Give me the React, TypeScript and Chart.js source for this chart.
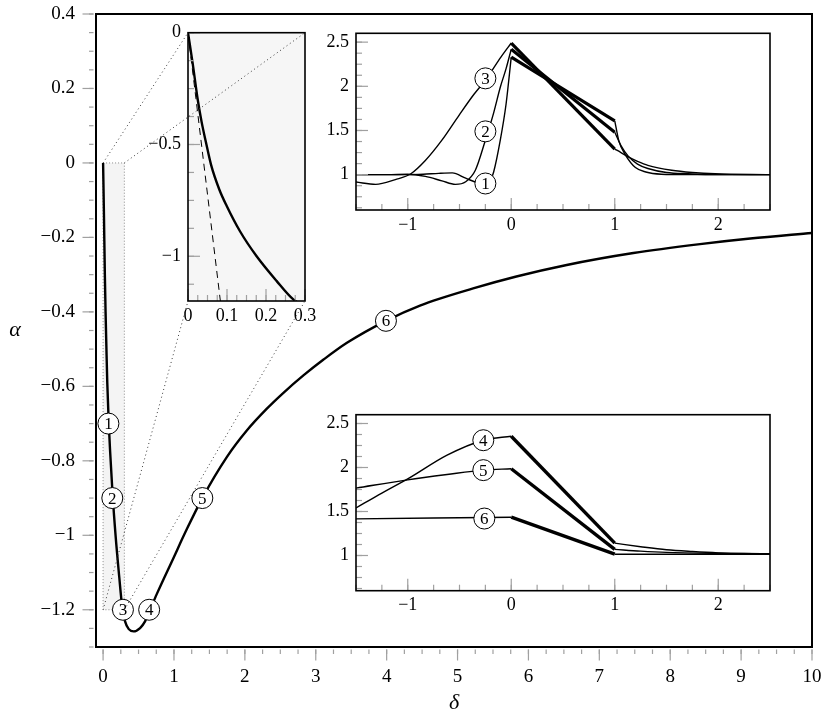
import React, { useEffect, useRef } from 'react';
import { Chart, registerables } from 'chart.js';

Chart.register(...registerables);

const W = 830;
const H = 717;
const FONT = "'Liberation Serif', 'DejaVu Serif', serif";

// ---------- main chart data: alpha versus delta ----------
const mainDelta = [0, 0.012, 0.025, 0.035, 0.046, 0.059, 0.08, 0.0993, 0.1333, 0.176, 0.227, 0.27, 0.31, 0.362, 0.43, 0.522, 0.592, 0.65, 0.757, 0.99, 1.18, 1.4, 1.745, 2.03, 2.31, 2.54, 2.83, 3.11, 3.44, 3.99, 4.47, 5.22, 5.83, 6.54, 7.48, 8.42, 9.13, 10];
const mainAlpha = [0, -0.137, -0.3, -0.4, -0.49, -0.59, -0.7, -0.775, -0.888, -1.0, -1.11, -1.193, -1.231, -1.252, -1.258, -1.249, -1.231, -1.206, -1.158, -1.062, -0.984, -0.9, -0.79, -0.718, -0.66, -0.618, -0.57, -0.528, -0.483, -0.424, -0.383, -0.337, -0.305, -0.274, -0.242, -0.218, -0.203, -0.188];

const mainLabelDelta = [0.075, 0.13, 0.28, 0.65, 1.4, 3.99];
const mainLabelAlpha = [-0.7, -0.9, -1.2, -1.2, -0.9, -0.424];
const mainLabelText = ['1', '2', '3', '4', '5', '6'];

const mainXMajor = [0, 1, 2, 3, 4, 5, 6, 7, 8, 9, 10];
const mainYMajor = [0.4, 0.2, 0, -0.2, -0.4, -0.6, -0.8, -1, -1.2];

// zoom window shown in the first inset
const zoomDelta = [0, 0.3];
const zoomAlpha = [-1.2, 0];

// dashed reference line in the zoom inset
const dashDelta = [0, 0.083];
const dashAlpha = [0, -1.2];

const zoomXMajor = [0, 0.1, 0.2, 0.3];
const zoomYMajor = [0, -0.5, -1];

// ---------- profile insets ----------
const c1LeftX = [-1.5, -1.25, -1.0, -0.85, -0.7, -0.57, -0.44, -0.33, -0.25, -0.2, -0.17, -0.106, -0.05, 0];
const c1LeftY = [1.0, 1.0, 1.0, 1.005, 1.015, 1.02, 0.96, 0.91, 0.9, 0.94, 1.03, 1.39, 1.8, 2.33];
const c1RightX = [1, 1.04, 1.1, 1.2, 1.3, 1.45, 1.7, 2.5];
const c1RightY = [1.61, 1.38, 1.23, 1.08, 1.03, 1.005, 1.0, 1.0];

const c2LeftX = [-1.5, -1.2, -1.0, -0.83, -0.67, -0.54, -0.44, -0.347, -0.25, -0.17, -0.106, -0.05, 0];
const c2LeftY = [1.0, 1.0, 1.005, 0.98, 0.93, 0.89, 0.92, 1.05, 1.39, 1.7, 1.99, 2.2, 2.42];
const c2RightX = [1, 1.06, 1.13, 1.22, 1.32, 1.5, 1.71, 2.0, 2.5];
const c2RightY = [1.48, 1.33, 1.21, 1.12, 1.07, 1.025, 1.01, 1.0, 1.0];

const c3LeftX = [-1.5, -1.31, -1.12, -0.97, -0.83, -0.67, -0.5, -0.36, -0.25, -0.1, 0];
const c3LeftY = [0.917, 0.89, 0.944, 1.01, 1.16, 1.39, 1.68, 1.91, 2.07, 2.33, 2.49];
const c3RightX = [1, 1.06, 1.13, 1.22, 1.32, 1.55, 1.75, 1.97, 2.5];
const c3RightY = [1.29, 1.25, 1.2, 1.15, 1.105, 1.05, 1.025, 1.01, 1.0];

const c4LeftX = [-1.5, -1.25, -1.0, -0.62, -0.27, 0];
const c4LeftY = [1.54, 1.71, 1.87, 2.14, 2.31, 2.355];
const c4RightX = [1, 1.25, 1.5, 1.75, 2.0, 2.25, 2.5];
const c4RightY = [1.14, 1.1, 1.065, 1.045, 1.03, 1.022, 1.02];

const c5LeftX = [-1.5, -1.0, -0.62, -0.27, 0];
const c5LeftY = [1.766, 1.86, 1.92, 1.97, 1.986];
const c5RightX = [1, 1.25, 1.5, 2.0, 2.5];
const c5RightY = [1.07, 1.05, 1.036, 1.025, 1.02];

const c6LeftX = [-1.5, 0];
const c6LeftY = [1.416, 1.435];
const c6RightX = [1, 2.5];
const c6RightY = [1.015, 1.015];

// thick ramps between x = 0 and x = 1
const rampX = [0, 1];
const ramp1Y = [2.33, 1.61];
const ramp2Y = [2.42, 1.48];
const ramp3Y = [2.49, 1.29];
const ramp4Y = [2.355, 1.14];
const ramp5Y = [1.986, 1.07];
const ramp6Y = [1.435, 1.015];

const topLabelX = [-0.25, -0.25, -0.25];
const topLabelY = [0.9, 1.49, 2.09];
const topLabelText = ['1', '2', '3'];
const botLabelX = [-0.27, -0.27, -0.26];
const botLabelY = [2.31, 1.97, 1.42];
const botLabelText = ['4', '5', '6'];

const profXMajor = [-1, 0, 1, 2];
const profYMajor = [1, 1.5, 2, 2.5];

// ---------- helpers ----------
function steps(from: number, to: number, step: number) {
  const out: number[] = [];
  const n = Math.round((to - from) / step);
  for (let i = 0; i <= n; i++) out.push(Math.round((from + i * step) * 10000) / 10000);
  return out;
}

function fmt(v: number) {
  const s = String(Math.round(v * 1000) / 1000);
  return s.startsWith('-') ? '\u2212' + s.slice(1) : s;
}

function pts(xs: number[], ys: number[]) {
  return xs.map((x, i) => ({ x, y: ys[i] }));
}

function line(xs: number[], ys: number[], width: number, extra: any = {}) {
  return {
    data: pts(xs, ys),
    borderColor: '#000',
    borderWidth: width,
    pointRadius: 0,
    fill: false,
    cubicInterpolationMode: 'monotone',
    ...extra,
  };
}

function zeroPad(s: any) {
  s.paddingTop = 0;
  s.paddingBottom = 0;
  s.paddingLeft = 0;
  s.paddingRight = 0;
}

function xScale(min: number, max: number, majors: number[], size: number, pad: number, height: number) {
  return {
    type: 'linear',
    position: 'bottom',
    min,
    max,
    afterBuildTicks: (s: any) => {
      s.ticks = majors.map((v) => ({ value: v }));
    },
    afterFit: (s: any) => {
      s.height = height;
      zeroPad(s);
    },
    grid: { display: false, drawTicks: false },
    border: { display: false },
    ticks: {
      autoSkip: false,
      maxRotation: 0,
      padding: pad,
      color: '#000',
      font: { family: FONT, size },
      callback: (v: any) => fmt(Number(v)),
    },
  };
}

function yScale(min: number, max: number, majors: number[], size: number, pad: number, width: number) {
  return {
    type: 'linear',
    position: 'left',
    min,
    max,
    afterBuildTicks: (s: any) => {
      s.ticks = majors.map((v) => ({ value: v }));
    },
    afterFit: (s: any) => {
      s.width = width;
      zeroPad(s);
    },
    grid: { display: false, drawTicks: false },
    border: { display: false },
    ticks: {
      autoSkip: false,
      padding: pad,
      color: '#000',
      font: { family: FONT, size },
      callback: (v: any) => fmt(Number(v)),
    },
  };
}

function layout(l: number, t: number, r: number, b: number, yW: number, xH: number) {
  return { padding: { left: l - yW, top: t, right: W - r, bottom: H - b - xH } };
}

function framePlugin(cfg: {
  xMajor: number[]; xMinor: number[]; yMajor: number[]; yMinor: number[];
  inside: boolean; majLen: number; minLen: number; gap: number; frameWidth: number; bg: string | null;
}) {
  return {
    id: 'frameTicks',
    beforeDatasetsDraw(chart: any) {
      if (!cfg.bg) return;
      const a = chart.chartArea;
      const ctx = chart.ctx;
      ctx.save();
      ctx.fillStyle = cfg.bg;
      ctx.fillRect(a.left, a.top, a.right - a.left, a.bottom - a.top);
      ctx.restore();
    },
    afterDraw(chart: any) {
      const { ctx, chartArea: a, scales } = chart;
      const xs = scales.x;
      const ys = scales.y;
      ctx.save();
      ctx.strokeStyle = '#a0a0a0';
      ctx.lineWidth = 1.2;
      const dx = (v: number, len: number) => {
        const p = xs.getPixelForValue(v);
        ctx.beginPath();
        if (cfg.inside) {
          ctx.moveTo(p, a.bottom);
          ctx.lineTo(p, a.bottom - len);
        } else {
          ctx.moveTo(p, a.bottom + cfg.gap);
          ctx.lineTo(p, a.bottom + cfg.gap + len);
        }
        ctx.stroke();
      };
      const dy = (v: number, len: number) => {
        const p = ys.getPixelForValue(v);
        ctx.beginPath();
        if (cfg.inside) {
          ctx.moveTo(a.left, p);
          ctx.lineTo(a.left + len, p);
        } else {
          ctx.moveTo(a.left - cfg.gap, p);
          ctx.lineTo(a.left - cfg.gap - len, p);
        }
        ctx.stroke();
      };
      cfg.xMinor.forEach((v) => dx(v, cfg.minLen));
      cfg.xMajor.forEach((v) => dx(v, cfg.majLen));
      cfg.yMinor.forEach((v) => dy(v, cfg.minLen));
      cfg.yMajor.forEach((v) => dy(v, cfg.majLen));
      ctx.strokeStyle = '#000';
      ctx.lineWidth = cfg.frameWidth;
      ctx.strokeRect(a.left, a.top, a.right - a.left, a.bottom - a.top);
      ctx.restore();
    },
  };
}

function circlePlugin(xs: number[], ys: number[], texts: string[]) {
  return {
    id: 'circles',
    afterDatasetsDraw(chart: any) {
      const { ctx, scales } = chart;
      ctx.save();
      xs.forEach((x, i) => {
        const px = scales.x.getPixelForValue(x);
        const py = scales.y.getPixelForValue(ys[i]);
        ctx.beginPath();
        ctx.arc(px, py, 10.5, 0, Math.PI * 2);
        ctx.fillStyle = '#fff';
        ctx.fill();
        ctx.lineWidth = 1;
        ctx.strokeStyle = '#000';
        ctx.stroke();
        ctx.fillStyle = '#000';
        ctx.font = `17px ${FONT}`;
        ctx.textAlign = 'center';
        ctx.textBaseline = 'middle';
        ctx.fillText(texts[i], px, py + 1);
      });
      ctx.restore();
    },
  };
}

export default function App() {
  const r0 = useRef<HTMLCanvasElement>(null);
  const r1 = useRef<HTMLCanvasElement>(null);
  const r2 = useRef<HTMLCanvasElement>(null);
  const r3 = useRef<HTMLCanvasElement>(null);

  useEffect(() => {
    const charts: Chart[] = [];
    const base = { responsive: false, animation: false, plugins: { legend: { display: false }, tooltip: { enabled: false } } };

    // ---------- main chart ----------
    const mainExtras = {
      id: 'mainExtras',
      beforeDatasetsDraw(chart: any) {
        const { ctx, scales } = chart;
        const x0 = scales.x.getPixelForValue(zoomDelta[0]);
        const x1 = scales.x.getPixelForValue(zoomDelta[1]);
        const y0 = scales.y.getPixelForValue(zoomAlpha[1]);
        const y1 = scales.y.getPixelForValue(zoomAlpha[0]);
        ctx.save();
        ctx.fillStyle = '#f4f4f4';
        ctx.fillRect(x0, y0, x1 - x0, y1 - y0);
        ctx.strokeStyle = '#8a8a8a';
        ctx.lineWidth = 1;
        ctx.setLineDash([1, 2]);
        ctx.strokeRect(x0, y0, x1 - x0, y1 - y0);
        ctx.restore();
      },
      afterDraw(chart: any) {
        const ctx = chart.ctx;
        const a = chart.chartArea;
        ctx.save();
        ctx.fillStyle = '#000';
        ctx.font = `italic 22px ${FONT}`;
        ctx.textAlign = 'center';
        ctx.textBaseline = 'middle';
        ctx.fillText('\u03b1', 15, (a.top + a.bottom) / 2);
        ctx.fillText('\u03b4', (a.left + a.right) / 2, 703);
        ctx.restore();
      },
    };

    const main = new Chart(r0.current as HTMLCanvasElement, {
      type: 'line',
      data: { datasets: [line(mainDelta, mainAlpha, 2.4)] as any },
      options: {
        ...base,
        layout: layout(96, 14, 812, 647, 60, 45),
        scales: {
          x: xScale(-0.1, 10, mainXMajor, 19, 19, 45),
          y: yScale(-1.3, 0.4, mainYMajor, 19, 21, 60),
        } as any,
      } as any,
      plugins: [
        mainExtras,
        framePlugin({
          xMajor: mainXMajor, xMinor: steps(0, 10, 0.25), yMajor: mainYMajor, yMinor: steps(-1.3, 0.4, 0.05),
          inside: false, majLen: 11, minLen: 4.5, gap: 2.5, frameWidth: 2, bg: null,
        }),
        circlePlugin(mainLabelDelta, mainLabelAlpha, mainLabelText),
      ] as any,
    });
    charts.push(main);

    // ---------- zoom inset ----------
    const connectors = {
      id: 'connectors',
      afterDraw(chart: any) {
        const ctx = chart.ctx;
        const mx = (main as any).scales.x;
        const my = (main as any).scales.y;
        const ix = chart.scales.x;
        const iy = chart.scales.y;
        ctx.save();
        ctx.strokeStyle = '#3a3a3a';
        ctx.lineWidth = 1;
        ctx.setLineDash([1, 3]);
        zoomDelta.forEach((d) => {
          zoomAlpha.forEach((al) => {
            ctx.beginPath();
            ctx.moveTo(mx.getPixelForValue(d), my.getPixelForValue(al));
            ctx.lineTo(ix.getPixelForValue(d), iy.getPixelForValue(al));
            ctx.stroke();
          });
        });
        ctx.restore();
      },
    };
    const zoom = new Chart(r1.current as HTMLCanvasElement, {
      type: 'line',
      data: {
        datasets: [
          line(mainDelta, mainAlpha, 2.4),
          line(dashDelta, dashAlpha, 1, { borderDash: [7, 5], cubicInterpolationMode: 'default', tension: 0 }),
        ] as any,
      },
      options: {
        ...base,
        layout: layout(188, 32.7, 305, 301, 50, 30),
        scales: {
          x: xScale(0, 0.3, zoomXMajor, 18, 4, 30),
          y: yScale(-1.2, 0, zoomYMajor, 18, 7, 50),
        } as any,
      } as any,
      plugins: [
        framePlugin({
          xMajor: zoomXMajor, xMinor: steps(0, 0.3, 0.025), yMajor: zoomYMajor, yMinor: steps(-1.125, 0, 0.125),
          inside: true, majLen: 12, minLen: 6, gap: 0, frameWidth: 1.6, bg: '#f6f6f6',
        }),
        connectors,
      ] as any,
    });
    charts.push(zoom);

    // ---------- profile inset (curves 1-3) ----------
    const profTicks = {
      xMajor: profXMajor, xMinor: steps(-1.5, 2.5, 0.25), yMajor: profYMajor, yMinor: steps(0.625, 2.5, 0.125),
      inside: true, majLen: 12, minLen: 6, gap: 0, frameWidth: 1.6, bg: '#ffffff',
    };
    const top = new Chart(r2.current as HTMLCanvasElement, {
      type: 'line',
      data: {
        datasets: [
          line(c1LeftX, c1LeftY, 1.4),
          line(c1RightX, c1RightY, 1.4),
          line(c2LeftX, c2LeftY, 1.4),
          line(c2RightX, c2RightY, 1.4),
          line(c3LeftX, c3LeftY, 1.4),
          line(c3RightX, c3RightY, 1.4),
          line(rampX, ramp1Y, 3.2, { cubicInterpolationMode: 'default', tension: 0 }),
          line(rampX, ramp2Y, 3.2, { cubicInterpolationMode: 'default', tension: 0 }),
          line(rampX, ramp3Y, 3.2, { cubicInterpolationMode: 'default', tension: 0 }),
        ] as any,
      },
      options: {
        ...base,
        layout: layout(356, 33.3, 770, 210, 40, 30),
        scales: {
          x: xScale(-1.5, 2.5, profXMajor, 18, 4, 30),
          y: yScale(0.6, 2.6, profYMajor, 18, 7, 40),
        } as any,
      } as any,
      plugins: [framePlugin(profTicks), circlePlugin(topLabelX, topLabelY, topLabelText)] as any,
    });
    charts.push(top);

    // ---------- profile inset (curves 4-6) ----------
    const bot = new Chart(r3.current as HTMLCanvasElement, {
      type: 'line',
      data: {
        datasets: [
          line(c4LeftX, c4LeftY, 1.4),
          line(c4RightX, c4RightY, 1.4),
          line(c5LeftX, c5LeftY, 1.4),
          line(c5RightX, c5RightY, 1.4),
          line(c6LeftX, c6LeftY, 1.4),
          line(c6RightX, c6RightY, 1.4),
          line(rampX, ramp4Y, 3.4, { cubicInterpolationMode: 'default', tension: 0 }),
          line(rampX, ramp5Y, 3.4, { cubicInterpolationMode: 'default', tension: 0 }),
          line(rampX, ramp6Y, 3.4, { cubicInterpolationMode: 'default', tension: 0 }),
        ] as any,
      },
      options: {
        ...base,
        layout: layout(356, 414.7, 770, 590.7, 40, 30),
        scales: {
          x: xScale(-1.5, 2.5, profXMajor, 18, 4, 30),
          y: yScale(0.6, 2.6, profYMajor, 18, 7, 40),
        } as any,
      } as any,
      plugins: [framePlugin(profTicks), circlePlugin(botLabelX, botLabelY, botLabelText)] as any,
    });
    charts.push(bot);

    return () => charts.forEach((c) => c.destroy());
  }, []);

  const refs = [r0, r1, r2, r3];
  return (
    <div style={{ position: 'fixed', left: 0, top: 0, width: W, height: H, background: '#fff' }}>
      {refs.map((r, i) => (
        <canvas
          key={i}
          ref={r}
          width={W}
          height={H}
          style={{ position: 'absolute', left: 0, top: 0, width: W, height: H }}
        />
      ))}
    </div>
  );
}
